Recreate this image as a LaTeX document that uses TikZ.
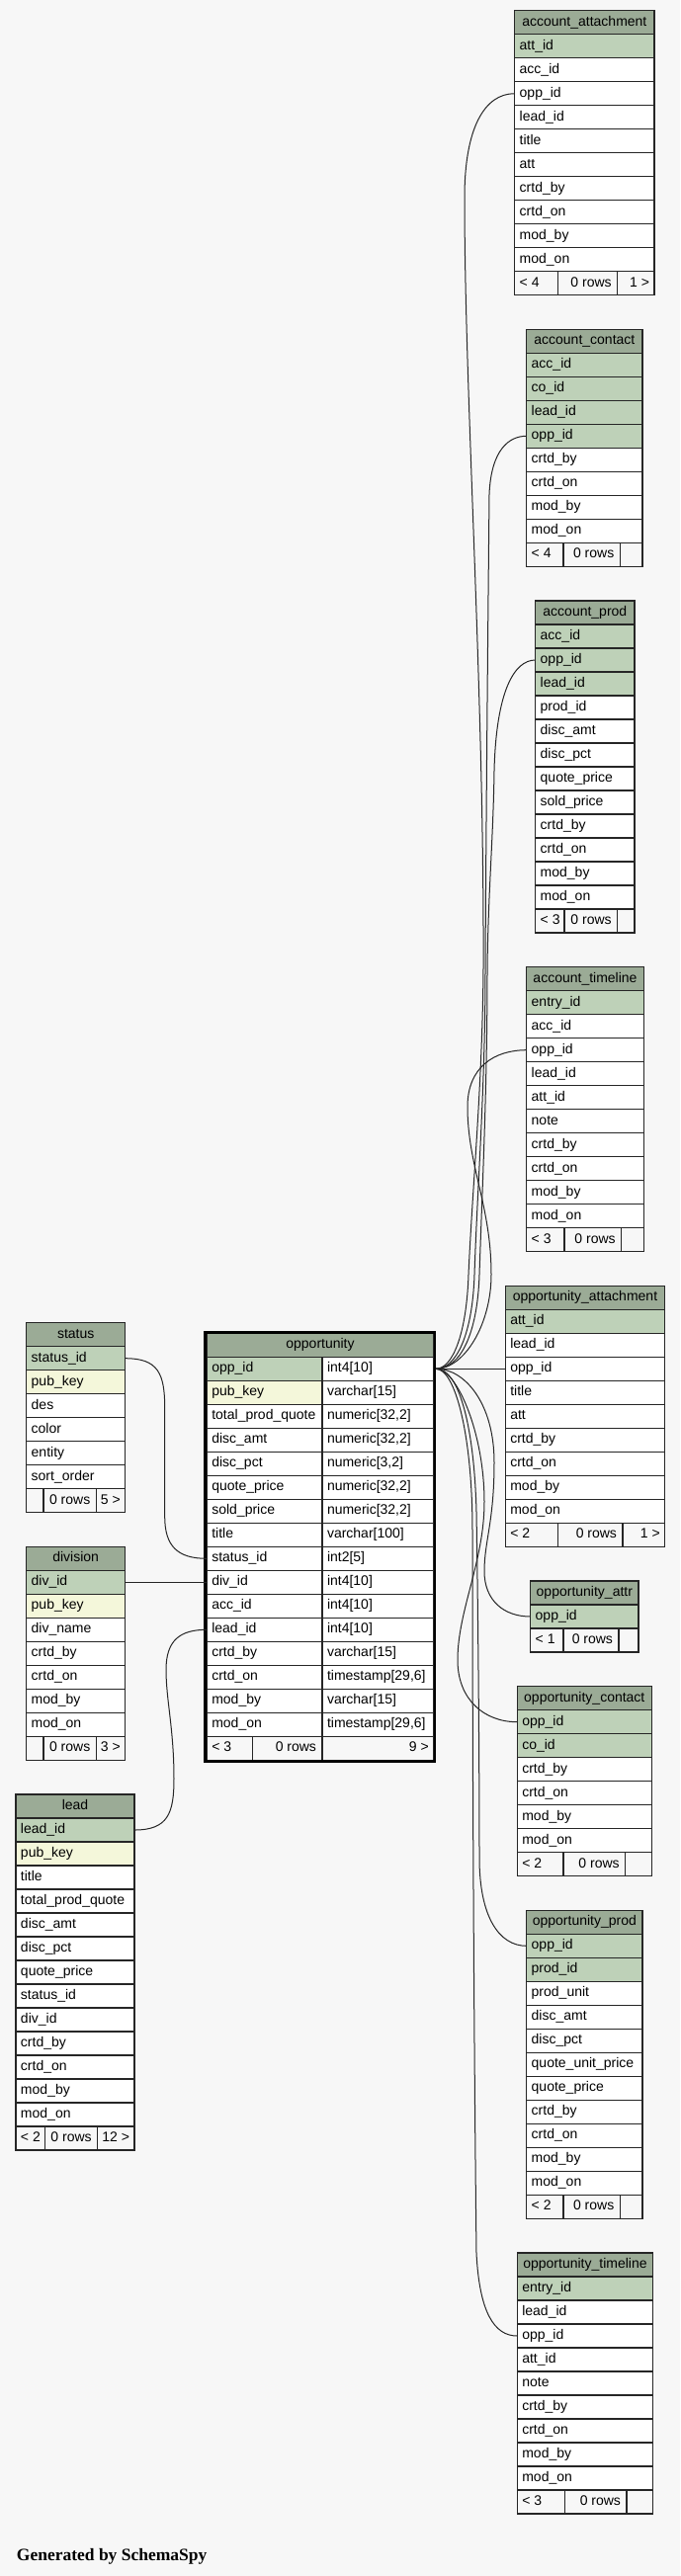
\documentclass[tikz,border=0pt]{standalone}
\usepackage{fontspec}
\setmainfont{Liberation Sans}
\newfontfamily\genfont{Liberation Serif}
\definecolor{hdrc}{HTML}{9BAB96}
\definecolor{pkc}{HTML}{BED1B8}
\definecolor{ixc}{HTML}{F4F7DA}
\definecolor{bgc}{HTML}{F7F7F7}
\catcode`\_=12
\tikzset{
  cellbase/.style={draw=black!85, line width=1.2pt, inner sep=0pt, outer sep=0pt,
    anchor=north west, minimum height=24pt, text height=10pt, text depth=3pt,
    font=\fontsize{14}{16}\selectfont},
  ft/.style={cellbase, fill=bgc},
  rel/.style={draw=black!85, line width=1pt},
}
\newcommand\dbtable[6]{%
  \node[cellbase,fill=hdrc] (#1) at (#2,#3) {\hbox to #4pt{\hfil#5\hfil}};
  \foreach \n/\s [count=\i] in {#6} {%
    \node[cellbase,fill=\s] (#1-\n) at (#2,#3+24*\i) {\hbox to #4pt{\kern5pt\n\hfil}};
  }%
}
\newcommand\dbfoot[9]{%
  \node[ft] (#1-f1) at (#2,#3) {\hbox to #4pt{\kern5pt#7\hfil}};
  \node[ft] (#1-f2) at (#1-f1.north east) {\hbox to #5pt{\hfil#8\kern6pt}};
  \node[ft] (#1-f3) at (#1-f2.north east) {\hbox to #6pt{\hfil#9\kern5pt}};
}
\begin{document}
\begin{tikzpicture}[x=1pt,y=-1pt]
\fill[bgc] (0,0) rectangle (688,2607);
\useasboundingbox (0,0) rectangle (688,2607);

% ---------- tables ----------
\dbtable{aa}{520.7}{10.7}{141.3}{account_attachment}{att_id/pkc,acc_id/white,opp_id/white,lead_id/white,title/white,att/white,crtd_by/white,crtd_on/white,mod_by/white,mod_on/white}
\dbfoot{aa}{520.7}{274.7}{44}{60}{37.3}{< 4}{0 rows}{1 >}

\dbtable{ac}{532.7}{333.3}{117.3}{account_contact}{acc_id/pkc,co_id/pkc,lead_id/pkc,opp_id/pkc,crtd_by/white,crtd_on/white,mod_by/white,mod_on/white}
\dbfoot{ac}{532.7}{549.3}{37.3}{57.3}{22.7}{< 4}{0 rows}{}

\dbtable{ap}{541.7}{608}{100.3}{account_prod}{acc_id/pkc,opp_id/pkc,lead_id/pkc,prod_id/white,disc_amt/white,disc_pct/white,quote_price/white,sold_price/white,crtd_by/white,crtd_on/white,mod_by/white,mod_on/white}
\dbfoot{ap}{541.7}{920}{29.3}{53.7}{17.3}{< 3}{0 rows}{}

\dbtable{at}{532.7}{978.7}{118.6}{account_timeline}{entry_id/pkc,acc_id/white,opp_id/white,lead_id/white,att_id/white,note/white,crtd_by/white,crtd_on/white,mod_by/white,mod_on/white}
\dbfoot{at}{532.7}{1242.7}{38.3}{57.7}{22.6}{< 3}{0 rows}{}

\dbtable{oa}{511.3}{1301.3}{161.4}{opportunity_attachment}{att_id/pkc,lead_id/white,opp_id/white,title/white,att/white,crtd_by/white,crtd_on/white,mod_by/white,mod_on/white}
\dbfoot{oa}{511.3}{1541.3}{53.4}{65.3}{42.7}{< 2}{0 rows}{1 >}

\dbtable{oat}{536.7}{1600}{109.3}{opportunity_attr}{opp_id/pkc}
\dbfoot{oat}{536.7}{1648}{33.3}{56}{20}{< 1}{0 rows}{}

\dbtable{oc}{523.3}{1706.7}{136}{opportunity_contact}{opp_id/pkc,co_id/pkc,crtd_by/white,crtd_on/white,mod_by/white,mod_on/white}
\dbfoot{oc}{523.3}{1874.7}{46.7}{62.7}{26.6}{< 2}{0 rows}{}

\dbtable{op}{532.7}{1933.3}{117.3}{opportunity_prod}{opp_id/pkc,prod_id/pkc,prod_unit/white,disc_amt/white,disc_pct/white,quote_unit_price/white,quote_price/white,crtd_by/white,crtd_on/white,mod_by/white,mod_on/white}
\dbfoot{op}{532.7}{2221.3}{37.3}{57.3}{22.7}{< 2}{0 rows}{}

\dbtable{ot}{523.3}{2280}{137.4}{opportunity_timeline}{entry_id/pkc,lead_id/white,opp_id/white,att_id/white,note/white,crtd_by/white,crtd_on/white,mod_by/white,mod_on/white}
\dbfoot{ot}{523.3}{2520}{48}{62.7}{26.7}{< 3}{0 rows}{}

\dbtable{st}{26.7}{1338.7}{100}{status}{status_id/pkc,pub_key/ixc,des/white,color/white,entity/white,sort_order/white}
\dbfoot{st}{26.7}{1506.7}{17.3}{53.3}{29.4}{}{0 rows}{5 >}

\dbtable{dv}{26.7}{1565.3}{100}{division}{div_id/pkc,pub_key/ixc,div_name/white,crtd_by/white,crtd_on/white,mod_by/white,mod_on/white}
\dbfoot{dv}{26.7}{1757.3}{17.3}{53.3}{29.4}{}{0 rows}{3 >}

\dbtable{ld}{16}{1816}{120}{lead}{lead_id/pkc,pub_key/ixc,title/white,total_prod_quote/white,disc_amt/white,disc_pct/white,quote_price/white,status_id/white,div_id/white,crtd_by/white,crtd_on/white,mod_by/white,mod_on/white}
\dbfoot{ld}{16}{2152}{29.3}{53.4}{37.3}{< 2}{0 rows}{12 >}

% opportunity (selected table)
\node[cellbase,fill=hdrc] (opp) at (209.3,1349.3) {\hbox to 229.4pt{\hfil opportunity\hfil}};
\foreach \n/\t/\s [count=\i] in {opp_id/int4[10]/pkc, pub_key/varchar[15]/ixc,
  total_prod_quote/{numeric[32,2]}/white, disc_amt/{numeric[32,2]}/white,
  disc_pct/{numeric[3,2]}/white, quote_price/{numeric[32,2]}/white,
  sold_price/{numeric[32,2]}/white, title/varchar[100]/white, status_id/int2[5]/white,
  div_id/int4[10]/white, acc_id/int4[10]/white, lead_id/int4[10]/white,
  crtd_by/varchar[15]/white, crtd_on/{timestamp[29,6]}/white, mod_by/varchar[15]/white,
  mod_on/{timestamp[29,6]}/white} {%
  \node[cellbase,fill=\s] (opp-\n) at (209.3,1349.3+24*\i) {\hbox to 116.7pt{\kern5pt\n\hfil}};
  \node[cellbase,fill=white] (opp-\n-t) at (326,1349.3+24*\i) {\hbox to 112.7pt{\kern5pt\t\hfil}};
}
\dbfoot{opp}{209.3}{1757.3}{46}{70.7}{112.7}{< 3}{0 rows}{9 >}
\draw[line width=2.6pt] (207.6,1348.2) rectangle (440,1782.6);

% ---------- connectors ----------
\coordinate (fan) at ([xshift=2.3pt]opp-opp_id-t.east);
\draw[rel] (fan) .. controls (458,1385) and (472,1350) .. (474,1290)
  .. controls (478,1200) and (488,1100) .. (489,980)
  .. controls (490,700) and (470,400) .. (470,200)
  .. controls (470,130) and (490,94.7) .. (aa-opp_id.west);
\draw[rel] (fan) .. controls (462,1385) and (478,1350) .. (480,1290)
  .. controls (483,1200) and (491,1100) .. (491,980)
  .. controls (492,800) and (494,600) .. (495,500)
  .. controls (497,455) and (515,441.3) .. (ac-opp_id.west);
\draw[rel] (fan) .. controls (466,1385) and (483,1350) .. (485,1290)
  .. controls (488,1200) and (493,1100) .. (493,980)
  .. controls (494,900) and (499,850) .. (500,780)
  .. controls (502,700) and (520,668) .. (ap-opp_id.west);
\draw[rel] (fan) .. controls (470,1385) and (497,1340) .. (497,1290)
  .. controls (497,1220) and (473,1180) .. (473,1120)
  .. controls (473,1080) and (500,1062.7) .. (at-opp_id.west);
\draw[rel] (fan) -- (oa-opp_id.west);
\draw[rel] (fan) .. controls (470,1385) and (500,1420) .. (500,1480)
  .. controls (500,1540) and (490,1560) .. (490,1590)
  .. controls (490,1620) and (510,1636) .. (oat-opp_id.west);
\draw[rel] (fan) .. controls (462,1385) and (490,1450) .. (490,1520)
  .. controls (490,1580) and (463,1630) .. (463,1680)
  .. controls (463,1720) and (490,1742.7) .. (oc-opp_id.west);
\draw[rel] (fan) .. controls (466,1385) and (480,1450) .. (482,1530)
  .. controls (484,1650) and (485,1800) .. (485,1880)
  .. controls (485,1940) and (505,1969.3) .. (op-opp_id.west);
\draw[rel] (fan) .. controls (460,1385) and (478,1450) .. (478,1550)
  .. controls (478,1900) and (481,2200) .. (482,2280)
  .. controls (485,2340) and (500,2364) .. (ot-opp_id.west);

\draw[rel] (st-status_id.east) .. controls (160,1374.7) and (166.7,1390) .. (166.7,1425)
  -- (166.7,1535) .. controls (166.7,1565) and (180,1577.3) .. (opp-status_id.west);
\draw[rel] (dv-div_id.east) -- (opp-div_id.west);
\draw[rel] (ld-lead_id.east) .. controls (170,1852) and (176,1835) .. (176,1800)
  .. controls (176,1750) and (168,1720) .. (168,1690)
  .. controls (168,1660) and (182,1649.3) .. (opp-lead_id.west);

\node[anchor=base west, inner sep=0pt, font=\genfont\bfseries\fontsize{17.5}{20}\selectfont] (gen) at (16.7,2591.7) {Generated by SchemaSpy};
\end{tikzpicture}
\end{document}
